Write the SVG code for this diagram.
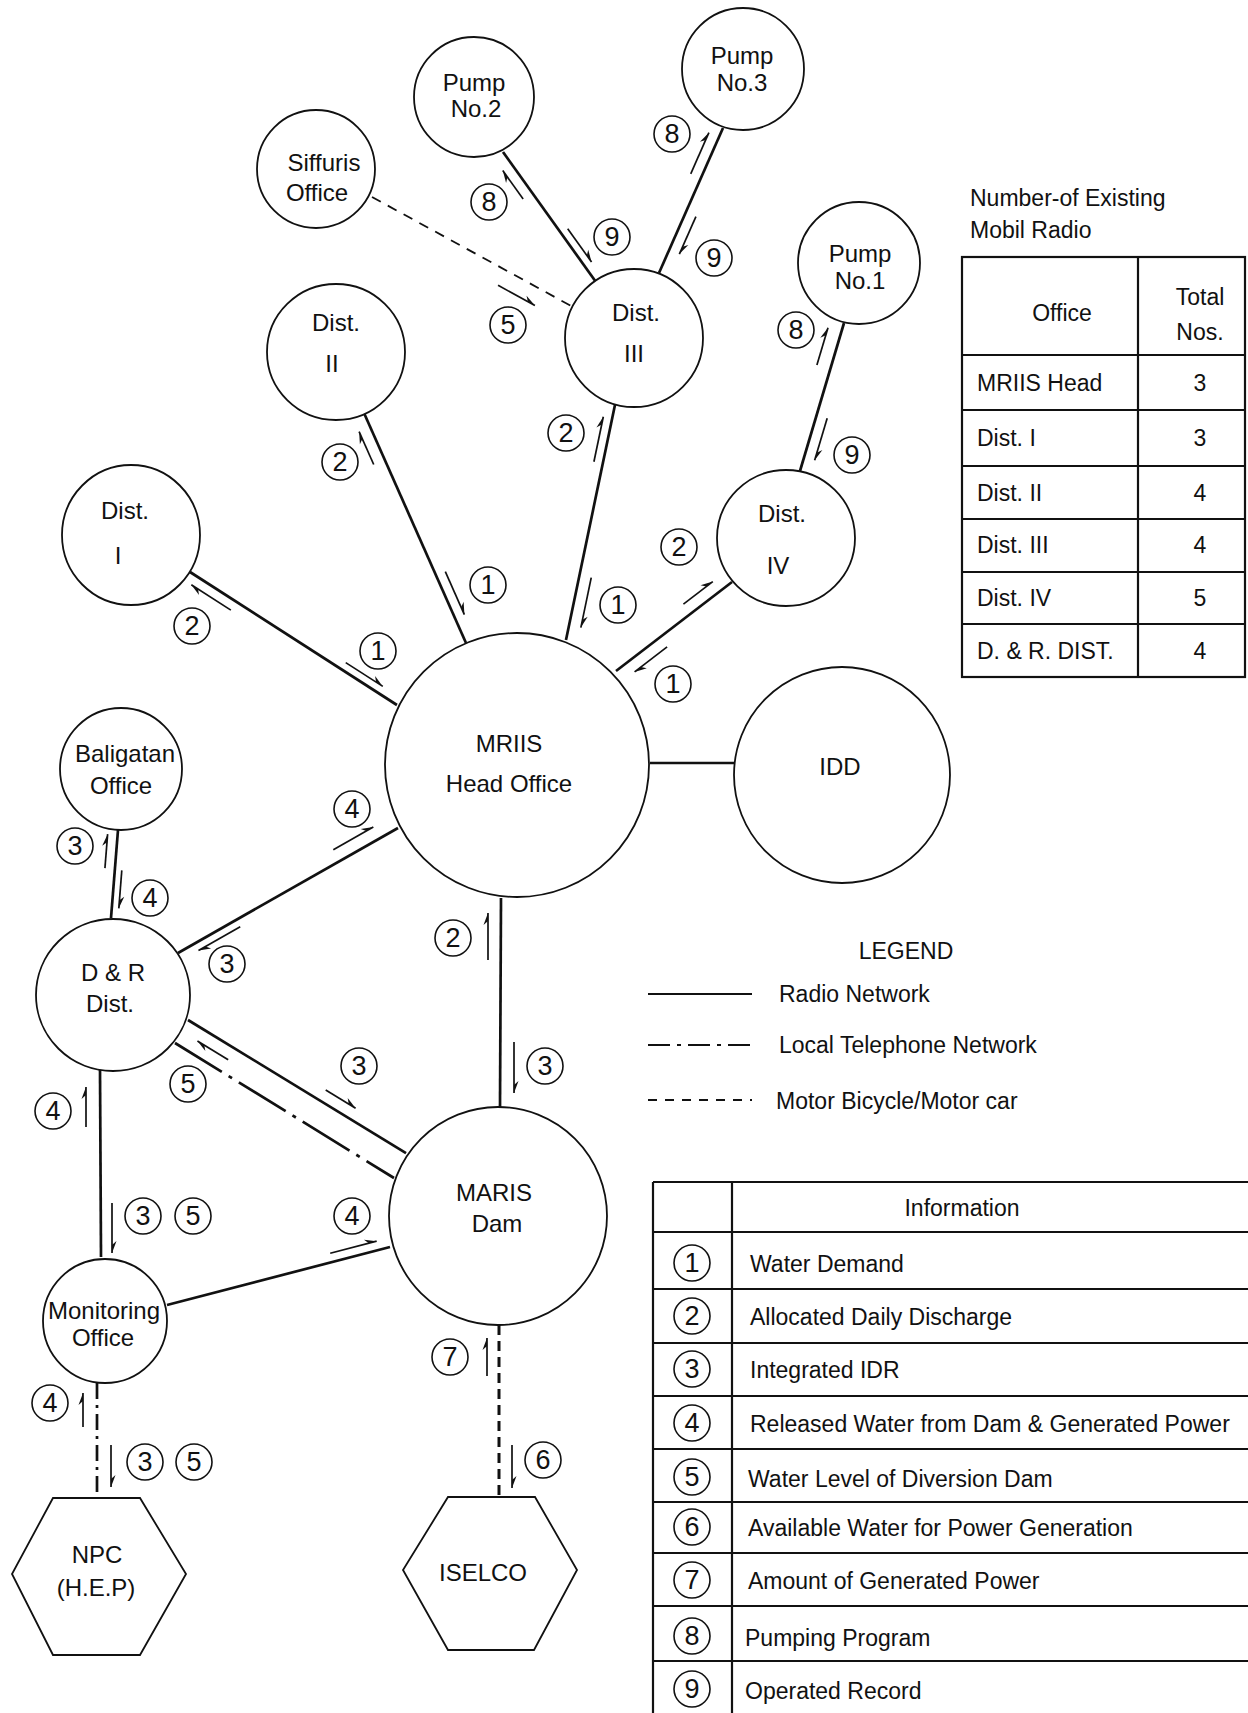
<svg xmlns="http://www.w3.org/2000/svg" width="1248" height="1713" viewBox="0 0 1248 1713">
<style>
.nd{fill:#fff;stroke:#111;stroke-width:1.8}
.t{font-family:"Liberation Sans",Arial,sans-serif;font-size:23px;fill:#111;text-anchor:middle;dominant-baseline:central}
.n{font-size:24px}
.tl{font-family:"Liberation Sans",Arial,sans-serif;font-size:23px;fill:#111;text-anchor:start;dominant-baseline:central}
.c{stroke:#111;stroke-width:2.7;fill:none}
.tel{stroke-dasharray:55 8 4 8;stroke-width:2.7}
.tel2{stroke-dasharray:16 6 3 6;stroke-width:2.7}
.moto{stroke-dasharray:10 8;stroke-width:1.8}
.moto2{stroke-dasharray:10 6;stroke-width:3}
.arr{stroke:#111;stroke-width:1.7;fill:none;marker-end:url(#hp)}
.lc{fill:#fff;stroke:#111;stroke-width:1.6}
.ld{font-family:"Liberation Sans",Arial,sans-serif;font-size:27px;fill:#111;text-anchor:middle;dominant-baseline:central}
.tb{stroke:#111;stroke-width:2.2;fill:none}
</style>
<defs>
<marker id="hp" viewBox="-13 -6 14 12" refX="0" refY="0" markerWidth="14" markerHeight="12" markerUnits="userSpaceOnUse" orient="auto">
<path d="M0,0 L-12,-4.5 L-8,0 Z" fill="#111"/>
</marker>
</defs>
<rect width="1248" height="1713" fill="#fff"/>

<g id="connectors">
<g transform="translate(190,572) rotate(32.73)"><line class="c" x1="0" y1="0" x2="246" y2="0"/><line class="arr" x1="55" y1="10" x2="8" y2="10"/><line class="arr" x1="180" y1="-8" x2="224" y2="-8"/></g>
<g transform="translate(364,413) rotate(66.08)"><line class="c" x1="0" y1="0" x2="251.6" y2="0"/><line class="arr" x1="51" y1="12" x2="15" y2="12"/><line class="arr" x1="178" y1="-10" x2="225" y2="-10"/></g>
<g transform="translate(616,400) rotate(101.77)"><line class="c" x1="0" y1="0" x2="245.2" y2="0"/><line class="arr" x1="65" y1="9" x2="19" y2="9"/><line class="arr" x1="179" y1="-12" x2="230" y2="-12"/></g>
<g transform="translate(732,582) rotate(142.5)"><line class="c" x1="0" y1="0" x2="146.2" y2="0"/><line class="arr" x1="52" y1="12" x2="15" y2="12"/><line class="arr" x1="91" y1="-12" x2="132" y2="-12"/></g>
<g transform="translate(844,323) rotate(106.56)"><line class="c" x1="0" y1="0" x2="154.4" y2="0"/><line class="arr" x1="48" y1="14" x2="9" y2="14"/><line class="arr" x1="96" y1="-11" x2="140" y2="-11"/></g>
<g transform="translate(503,152) rotate(54.42)"><line class="c" x1="0" y1="0" x2="159.8" y2="0"/><line class="arr" x1="50" y1="11" x2="15" y2="11"/><line class="arr" x1="100" y1="-8" x2="141" y2="-8"/></g>
<g transform="translate(723,128) rotate(113.82)"><line class="c" x1="0" y1="0" x2="158.5" y2="0"/><line class="arr" x1="55" y1="11" x2="10" y2="11"/><line class="arr" x1="92" y1="-11" x2="133" y2="-11"/></g>
<g transform="translate(372,197) rotate(28.69)"><line class="c moto" x1="0" y1="0" x2="229.1" y2="0"/><line class="arr" x1="153" y1="17" x2="195" y2="17"/></g>
<line class="c" x1="650" y1="763" x2="735" y2="763"/>
<g transform="translate(118,830) rotate(94.55)"><line class="c" x1="0" y1="0" x2="88.3" y2="0"/><line class="arr" x1="39" y1="10" x2="5" y2="10"/><line class="arr" x1="40" y1="-7" x2="78" y2="-7"/></g>
<g transform="translate(398,828) rotate(150.4)"><line class="c" x1="0" y1="0" x2="253" y2="0"/><line class="arr" x1="67" y1="13" x2="21" y2="13"/><line class="arr" x1="186" y1="-8" x2="234" y2="-8"/></g>
<line class="c" x1="501" y1="898" x2="500" y2="1107"/>
<line class="arr" x1="488" y1="960" x2="488" y2="913"/>
<line class="arr" x1="514" y1="1042" x2="514" y2="1093"/>
<g transform="translate(188,1020) rotate(31.39)"><line class="c" x1="0" y1="0" x2="255.4" y2="0"/><line class="arr" x1="154" y1="-12" x2="189" y2="-12"/><line class="arr" x1="55" y1="13" x2="19" y2="13"/></g>
<line class="c tel" x1="175" y1="1043" x2="394" y2="1178"/>
<line class="c" x1="100" y1="1070" x2="101" y2="1257"/>
<line class="arr" x1="86" y1="1127" x2="86" y2="1087"/>
<line class="arr" x1="112" y1="1203" x2="112" y2="1253"/>
<g transform="translate(167,1305) rotate(-14.58)"><line class="c" x1="0" y1="0" x2="230.4" y2="0"/><line class="arr" x1="171" y1="-9" x2="219" y2="-9"/></g>
<line class="c tel2" x1="97" y1="1383" x2="97" y2="1498"/>
<line class="arr" x1="83" y1="1427" x2="83" y2="1393"/>
<line class="arr" x1="111" y1="1445" x2="111" y2="1487"/>
<line class="c moto2" x1="499" y1="1325" x2="499" y2="1497"/>
<line class="arr" x1="487" y1="1376" x2="487" y2="1338"/>
<line class="arr" x1="512" y1="1445" x2="512" y2="1488"/>
</g>

<g id="pump2"><circle class="nd" cx="474" cy="97" r="60"/><text class="t n" x="474" y="82">Pump</text><text class="t n" x="476" y="108">No.2</text></g>
<g id="pump3"><circle class="nd" cx="743" cy="69" r="61"/><text class="t n" x="742" y="55">Pump</text><text class="t n" x="742" y="82">No.3</text></g>
<g id="siffuris"><circle class="nd" cx="316" cy="169" r="59"/><text class="t n" x="324" y="162">Siffuris</text><text class="t n" x="317" y="192">Office</text></g>
<g id="dist2"><ellipse class="nd" cx="336" cy="352" rx="69" ry="68"/><text class="t n" x="336" y="322">Dist.</text><text class="t n" x="332" y="363">II</text></g>
<g id="dist3"><circle class="nd" cx="634" cy="338" r="69"/><text class="t n" x="636" y="312">Dist.</text><text class="t n" x="634" y="353">III</text></g>
<g id="pump1"><circle class="nd" cx="859" cy="263" r="61"/><text class="t n" x="860" y="253">Pump</text><text class="t n" x="860" y="280">No.1</text></g>
<g id="dist1"><ellipse class="nd" cx="131" cy="535" rx="69" ry="70"/><text class="t n" x="125" y="510">Dist.</text><text class="t n" x="118" y="555">I</text></g>
<g id="dist4"><ellipse class="nd" cx="786" cy="538" rx="69" ry="68"/><text class="t n" x="782" y="513">Dist.</text><text class="t n" x="778" y="565">IV</text></g>
<g id="mriis"><circle class="nd" cx="517" cy="765" r="132"/><text class="t n" x="509" y="743">MRIIS</text><text class="t n" x="509" y="783">Head Office</text></g>
<g id="idd"><circle class="nd" cx="842" cy="775" r="108"/><text class="t n" x="840" y="766">IDD</text></g>
<g id="baligatan"><circle class="nd" cx="121" cy="769" r="61"/><text class="t n" x="125" y="753">Baligatan</text><text class="t n" x="121" y="785">Office</text></g>
<g id="dr"><ellipse class="nd" cx="113" cy="995" rx="77" ry="76"/><text class="t n" x="113" y="972">D &amp; R</text><text class="t n" x="110" y="1003">Dist.</text></g>
<g id="maris"><circle class="nd" cx="498" cy="1216" r="109"/><text class="t n" x="494" y="1192">MARIS</text><text class="t n" x="497" y="1223">Dam</text></g>
<g id="monitoring"><ellipse class="nd" cx="105" cy="1321" rx="62" ry="62"/><text class="t n" x="104" y="1310">Monitoring</text><text class="t n" x="103" y="1337">Office</text></g>
<g id="npc"><polygon class="nd" points="53,1498 140,1498 186,1574 140,1655 53,1655 12,1574"/><text class="t n" x="97" y="1554">NPC</text><text class="t n" x="96" y="1587">(H.E.P)</text></g>
<g id="iselco"><polygon class="nd" points="448,1497 535,1497 577,1570 534,1650 448,1650 403,1570"/><text class="t n" x="483" y="1572">ISELCO</text></g>

<g id="labels">
<circle class="lc" cx="489" cy="202" r="18"/><text class="ld" x="489" y="202">8</text>
<circle class="lc" cx="612" cy="237" r="18"/><text class="ld" x="612" y="237">9</text>
<circle class="lc" cx="672" cy="134" r="18"/><text class="ld" x="672" y="134">8</text>
<circle class="lc" cx="714" cy="258" r="18"/><text class="ld" x="714" y="258">9</text>
<circle class="lc" cx="508" cy="325" r="18"/><text class="ld" x="508" y="325">5</text>
<circle class="lc" cx="340" cy="462" r="18"/><text class="ld" x="340" y="462">2</text>
<circle class="lc" cx="488" cy="585" r="18"/><text class="ld" x="488" y="585">1</text>
<circle class="lc" cx="566" cy="433" r="18"/><text class="ld" x="566" y="433">2</text>
<circle class="lc" cx="618" cy="605" r="18"/><text class="ld" x="618" y="605">1</text>
<circle class="lc" cx="679" cy="547" r="18"/><text class="ld" x="679" y="547">2</text>
<circle class="lc" cx="673" cy="684" r="18"/><text class="ld" x="673" y="684">1</text>
<circle class="lc" cx="796" cy="330" r="18"/><text class="ld" x="796" y="330">8</text>
<circle class="lc" cx="852" cy="455" r="18"/><text class="ld" x="852" y="455">9</text>
<circle class="lc" cx="192" cy="626" r="18"/><text class="ld" x="192" y="626">2</text>
<circle class="lc" cx="378" cy="651" r="18"/><text class="ld" x="378" y="651">1</text>
<circle class="lc" cx="75" cy="846" r="18"/><text class="ld" x="75" y="846">3</text>
<circle class="lc" cx="150" cy="898" r="18"/><text class="ld" x="150" y="898">4</text>
<circle class="lc" cx="352" cy="809" r="18"/><text class="ld" x="352" y="809">4</text>
<circle class="lc" cx="227" cy="964" r="18"/><text class="ld" x="227" y="964">3</text>
<circle class="lc" cx="453" cy="938" r="18"/><text class="ld" x="453" y="938">2</text>
<circle class="lc" cx="545" cy="1066" r="18"/><text class="ld" x="545" y="1066">3</text>
<circle class="lc" cx="359" cy="1066" r="18"/><text class="ld" x="359" y="1066">3</text>
<circle class="lc" cx="188" cy="1084" r="18"/><text class="ld" x="188" y="1084">5</text>
<circle class="lc" cx="53" cy="1111" r="18"/><text class="ld" x="53" y="1111">4</text>
<circle class="lc" cx="143" cy="1216" r="18"/><text class="ld" x="143" y="1216">3</text>
<circle class="lc" cx="193" cy="1216" r="18"/><text class="ld" x="193" y="1216">5</text>
<circle class="lc" cx="352" cy="1216" r="18"/><text class="ld" x="352" y="1216">4</text>
<circle class="lc" cx="50" cy="1403" r="18"/><text class="ld" x="50" y="1403">4</text>
<circle class="lc" cx="145" cy="1462" r="18"/><text class="ld" x="145" y="1462">3</text>
<circle class="lc" cx="194" cy="1462" r="18"/><text class="ld" x="194" y="1462">5</text>
<circle class="lc" cx="450" cy="1357" r="18"/><text class="ld" x="450" y="1357">7</text>
<circle class="lc" cx="543" cy="1460" r="18"/><text class="ld" x="543" y="1460">6</text>
</g>

<g id="radio-table">
<text class="tl" x="970" y="198">Number-of Existing</text>
<text class="tl" x="970" y="230">Mobil Radio</text>
<rect class="tb" x="962" y="257" width="283" height="420"/>
<line class="tb" x1="1138" y1="257" x2="1138" y2="677"/>
<line class="tb" x1="962" y1="355" x2="1245" y2="355"/>
<line class="tb" x1="962" y1="410" x2="1245" y2="410"/>
<line class="tb" x1="962" y1="466" x2="1245" y2="466"/>
<line class="tb" x1="962" y1="519" x2="1245" y2="519"/>
<line class="tb" x1="962" y1="572" x2="1245" y2="572"/>
<line class="tb" x1="962" y1="624" x2="1245" y2="624"/>
<text class="t" x="1062" y="313">Office</text>
<text class="t" x="1200" y="297">Total</text>
<text class="t" x="1200" y="332">Nos.</text>
<text class="tl" x="977" y="383">MRIIS Head</text><text class="t" x="1200" y="383">3</text>
<text class="tl" x="977" y="438">Dist. I</text><text class="t" x="1200" y="438">3</text>
<text class="tl" x="977" y="493">Dist. II</text><text class="t" x="1200" y="493">4</text>
<text class="tl" x="977" y="545">Dist. III</text><text class="t" x="1200" y="545">4</text>
<text class="tl" x="977" y="598">Dist. IV</text><text class="t" x="1200" y="598">5</text>
<text class="tl" x="977" y="651">D. &amp; R. DIST.</text><text class="t" x="1200" y="651">4</text>
</g>

<g id="legend">
<text class="t" x="906" y="951">LEGEND</text>
<line class="c" x1="648" y1="994" x2="752" y2="994" style="stroke-width:2.2"/>
<text class="tl" x="779" y="994">Radio Network</text>
<line class="c" x1="648" y1="1045" x2="752" y2="1045" style="stroke-dasharray:22 7 4 7;stroke-width:2.2"/>
<text class="tl" x="779" y="1045">Local Telephone Network</text>
<line class="c" x1="648" y1="1100" x2="752" y2="1100" style="stroke-dasharray:9 8;stroke-width:2.2"/>
<text class="tl" x="776" y="1101">Motor Bicycle/Motor car</text>
</g>

<g id="info-table">
<line class="tb" x1="653" y1="1182" x2="1248" y2="1182"/>
<line class="tb" x1="653" y1="1182" x2="653" y2="1713"/>
<line class="tb" x1="732" y1="1182" x2="732" y2="1713"/>
<line class="tb" x1="653" y1="1232" x2="1248" y2="1232"/>
<line class="tb" x1="653" y1="1289" x2="1248" y2="1289"/>
<line class="tb" x1="653" y1="1343" x2="1248" y2="1343"/>
<line class="tb" x1="653" y1="1396" x2="1248" y2="1396"/>
<line class="tb" x1="653" y1="1449" x2="1248" y2="1449"/>
<line class="tb" x1="653" y1="1502" x2="1248" y2="1502"/>
<line class="tb" x1="653" y1="1553" x2="1248" y2="1553"/>
<line class="tb" x1="653" y1="1606" x2="1248" y2="1606"/>
<line class="tb" x1="653" y1="1661" x2="1248" y2="1661"/>
<text class="t" x="962" y="1208">Information</text>
<circle class="lc" cx="692" cy="1263" r="18"/><text class="ld" x="692" y="1263">1</text><text class="tl" x="750" y="1264">Water Demand</text>
<circle class="lc" cx="692" cy="1316" r="18"/><text class="ld" x="692" y="1316">2</text><text class="tl" x="750" y="1317">Allocated Daily Discharge</text>
<circle class="lc" cx="692" cy="1369" r="18"/><text class="ld" x="692" y="1369">3</text><text class="tl" x="750" y="1370">Integrated IDR</text>
<circle class="lc" cx="692" cy="1423" r="18"/><text class="ld" x="692" y="1423">4</text><text class="tl" x="750" y="1424">Released Water from Dam &amp; Generated Power</text>
<circle class="lc" cx="692" cy="1477" r="18"/><text class="ld" x="692" y="1477">5</text><text class="tl" x="748" y="1479">Water Level of Diversion Dam</text>
<circle class="lc" cx="692" cy="1527" r="18"/><text class="ld" x="692" y="1527">6</text><text class="tl" x="748" y="1528">Available Water for Power Generation</text>
<circle class="lc" cx="692" cy="1580" r="18"/><text class="ld" x="692" y="1580">7</text><text class="tl" x="748" y="1581">Amount of Generated Power</text>
<circle class="lc" cx="692" cy="1636" r="18"/><text class="ld" x="692" y="1636">8</text><text class="tl" x="745" y="1638">Pumping Program</text>
<circle class="lc" cx="692" cy="1689" r="18"/><text class="ld" x="692" y="1689">9</text><text class="tl" x="745" y="1691">Operated Record</text>
</g>
</svg>
